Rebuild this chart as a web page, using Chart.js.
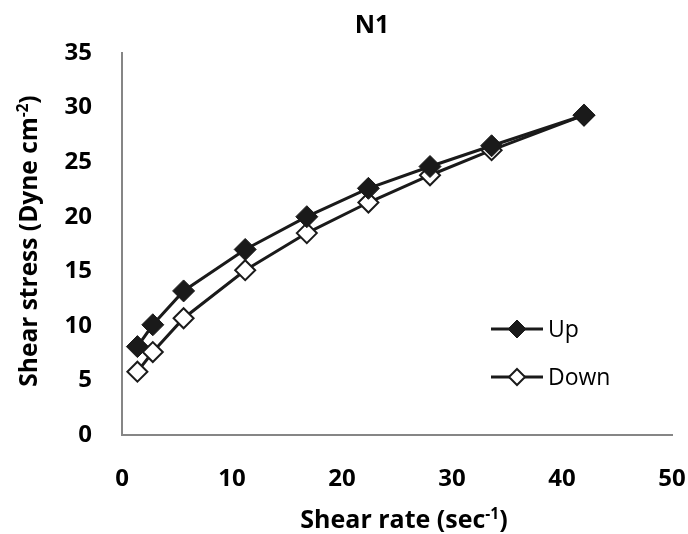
<!DOCTYPE html>
<html lang="en">
<head>
  <meta charset="UTF-8">
  <title>N1 Shear stress vs shear rate</title>
  <script src="https://cdn.jsdelivr.net/npm/chart.js"></script>
  <style>
    body {
      margin: 0;
      background-color: #ffffff;
    }
    #wrap {
      width: 688px;
      height: 534px;
    }
  </style>
</head>
<body>
  <div id="wrap"><canvas id="flowChart"></canvas></div>

  <script>
    // Data
    const shearRate = [1.4, 2.8, 5.6, 11.2, 16.8, 22.4, 28, 33.6, 42];
    const stressUp = [8.1, 10.1, 13.2, 17.0, 20.0, 22.6, 24.6, 26.5, 29.3];
    const stressDown = [5.8, 7.6, 10.7, 15.1, 18.5, 21.3, 23.8, 26.1, 29.3];
    const xTicks = [0, 10, 20, 30, 40, 50];
    const yTicks = [0, 5, 10, 15, 20, 25, 30, 35];

    const FONT = '"Open Sans", sans-serif';
    const INK = '#1a1a1a';

    const toPoints = (xs, ys) => xs.map((x, i) => ({ x: x, y: ys[i] }));

    // text with a superscript tail, centred on x
    function drawSupText(ctx, parts, x, y, size) {
      let total = 0;
      parts.forEach(p => {
        ctx.font = 'bold ' + (p.sup ? size * 0.62 : size) + 'px ' + FONT;
        total += ctx.measureText(p.t).width;
      });
      let cx = x - total / 2;
      parts.forEach(p => {
        ctx.font = 'bold ' + (p.sup ? size * 0.62 : size) + 'px ' + FONT;
        ctx.fillText(p.t, cx, p.sup ? y - size * 0.36 : y);
        cx += ctx.measureText(p.t).width;
      });
    }

    const decorations = {
      id: 'decorations',
      afterDraw(chart) {
        const ctx = chart.ctx;
        ctx.save();
        ctx.fillStyle = '#000000';
        ctx.textBaseline = 'alphabetic';

        // title
        ctx.font = 'bold 25px ' + FONT;
        ctx.textAlign = 'center';
        ctx.fillText('N1', 372, 33);
        ctx.textAlign = 'left';

        // x axis title
        drawSupText(ctx, [
          { t: 'Shear rate (sec' }, { t: '-1', sup: true }, { t: ')' }
        ], 404, 528, 25);

        // y axis title
        ctx.translate(37, 241);
        ctx.rotate(-Math.PI / 2);
        drawSupText(ctx, [
          { t: 'Shear stress (Dyne cm' }, { t: '-2', sup: true }, { t: ')' }
        ], 0, 0, 24.5);
        ctx.setTransform(1, 0, 0, 1, 0, 0);

        // legend: short line with the marker in the middle
        chart.data.datasets.forEach((ds, i) => {
          const ly = 329 + i * 48;
          ctx.strokeStyle = ds.borderColor;
          ctx.lineWidth = 3;
          ctx.beginPath();
          ctx.moveTo(491, ly);
          ctx.lineTo(543, ly);
          ctx.stroke();
          const r = ds.pointRadius - 2;
          ctx.fillStyle = ds.pointBackgroundColor;
          ctx.strokeStyle = ds.pointBorderColor;
          ctx.lineWidth = ds.pointBorderWidth;
          ctx.beginPath();
          ctx.moveTo(517, ly - r);
          ctx.lineTo(517 + r, ly);
          ctx.lineTo(517, ly + r);
          ctx.lineTo(517 - r, ly);
          ctx.closePath();
          ctx.fill();
          ctx.stroke();
          ctx.fillStyle = '#000000';
          ctx.font = '23px ' + FONT;
          ctx.textBaseline = 'middle';
          ctx.fillText(ds.label, 548, ly + 1);
          ctx.textBaseline = 'alphabetic';
        });
        ctx.restore();
      }
    };

    const ctx = document.getElementById('flowChart').getContext('2d');

    new Chart(ctx, {
      type: 'line',
      data: {
        datasets: [{
          label: 'Up',
          data: toPoints(shearRate, stressUp),
          borderColor: INK,
          borderWidth: 3,
          pointStyle: 'rectRot',
          pointRadius: 11,
          pointBackgroundColor: INK,
          pointBorderColor: INK,
          pointBorderWidth: 1,
          tension: 0
        }, {
          label: 'Down',
          data: toPoints(shearRate, stressDown),
          borderColor: INK,
          borderWidth: 3,
          pointStyle: 'rectRot',
          pointRadius: 10,
          pointBackgroundColor: '#ffffff',
          pointBorderColor: INK,
          pointBorderWidth: 2,
          tension: 0
        }]
      },
      options: {
        responsive: true,
        maintainAspectRatio: false,
        animation: false,
        layout: {
          padding: { left: 0, right: 16, top: 53, bottom: 0 }
        },
        plugins: {
          legend: { display: false },
          tooltip: { enabled: false }
        },
        scales: {
          x: {
            type: 'linear',
            min: 0,
            max: 50,
            afterBuildTicks: s => { s.ticks = xTicks.map(v => ({ value: v })); },
            afterFit: s => {
              s.height = 99;
              s.paddingLeft = 0;
              s.paddingRight = 0;
            },
            grid: { display: false, drawTicks: false },
            border: { display: true, color: '#868686', width: 2 },
            ticks: {
              padding: 30,
              color: '#000000',
              font: { family: FONT, size: 24, weight: 'bold' }
            }
          },
          y: {
            type: 'linear',
            min: 0,
            max: 35,
            afterBuildTicks: s => { s.ticks = yTicks.map(v => ({ value: v })); },
            afterFit: s => { s.width = 122; },
            grid: { display: false, drawTicks: false },
            border: { display: true, color: '#868686', width: 2 },
            ticks: {
              padding: 30,
              color: '#000000',
              font: { family: FONT, size: 24, weight: 'bold' }
            }
          }
        }
      },
      plugins: [decorations]
    });
  </script>
</body>
</html>
